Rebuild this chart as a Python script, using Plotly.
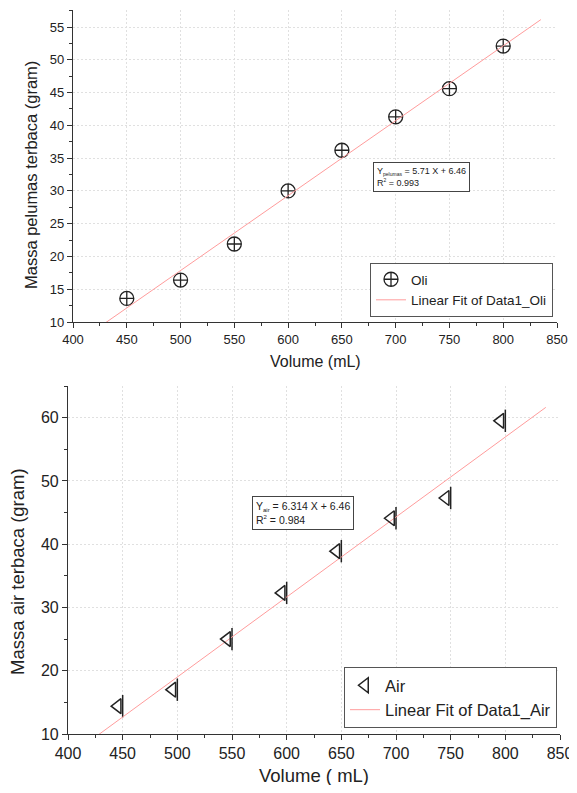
import numpy as np
import plotly.graph_objects as go

# ---------------- data ----------------
volume = [450, 500, 550, 600, 650, 700, 750, 800]
massa_oli = [13.6, 16.4, 21.9, 30.0, 36.2, 41.3, 45.6, 52.1]
massa_air = [14.4, 17.0, 25.0, 32.3, 38.9, 44.1, 47.3, 59.5]
fit_x_oli = [400, 835]
fit_x_air = [400, 837]
x_range = [400, 850]
y_range_oli = [10, 57.6]
y_range_air = [10, 65]
name_oli = "Oli"
name_fit_oli = "Linear Fit of Data1_Oli"
name_air = "Air"
name_fit_air = "Linear Fit of Data1_Air"
eq_oli = "Y<sub><span style='font-size:5px'>pelumas</span></sub> = 5.71 X + 6.46<br>R<sup><span style='font-size:5px'>2</span></sup> = 0.993"
eq_air = "Y<sub><span style='font-size:6px'>air</span></sub> = 6.314 X + 6.46<br>R<sup><span style='font-size:6px'>2</span></sup> = 0.984"
xtitle_oli = "Volume (mL)"
ytitle_oli = "Massa pelumas terbaca (gram)"
xtitle_air = "Volume ( mL)"
ytitle_air = "Massa air terbaca (gram)"

# linear fits computed from the data
c_oli = np.polyfit(volume, massa_oli, 1)
c_air = np.polyfit(volume, massa_air, 1)
fit_y_oli = np.polyval(c_oli, fit_x_oli)
fit_y_air = np.polyval(c_air, fit_x_air)

# the page body has an 8px margin, so the figure starts at (8, 8) in the window;
# keep the page height inside the window so no scrollbar appears
OFF = 8
W, H = 577 - OFF, 793 - 2 * OFF
def px(x):
    return (x - OFF) / W
def py(y):
    return 1 - (y - OFF) / H

# plot area boxes in window pixels (left, right, top, bottom)
TOP = (73, 557, 10, 322)
BOT = (68, 560, 386, 734)

FONT = "Liberation Sans, Arial, sans-serif"
INK = "#222222"
FITC = "#ff9c9c"
GRID = "#e0e0e0"
GDASH = "2px,2px"

# triangle is drawn slightly left of the data x (Origin symbol look)
tri_shift_px = 5
tri_shift = tri_shift_px * (x_range[1] - x_range[0]) / (BOT[1] - BOT[0])

fig = go.Figure()

fig.add_trace(go.Scatter(
    x=volume, y=massa_oli, mode="markers", name=name_oli,
    xaxis="x", yaxis="y", legend="legend",
    marker=dict(symbol="circle-cross-open", size=14, color=INK, line=dict(width=1.3, color=INK)),
))
fig.add_trace(go.Scatter(
    x=fit_x_oli, y=fit_y_oli, mode="lines", name=name_fit_oli,
    xaxis="x", yaxis="y", legend="legend",
    line=dict(color=FITC, width=1),
))

fig.add_trace(go.Scatter(
    x=volume, y=massa_air, mode="markers", name=name_air, showlegend=False,
    xaxis="x2", yaxis="y2",
    marker=dict(symbol="line-ns-open", size=16, color=INK, line=dict(width=1.5, color=INK)),
))
fig.add_trace(go.Scatter(
    x=volume, y=massa_air, mode="markers", name=name_air,
    xaxis="x5", yaxis="y2", legend="legend2",
    marker=dict(symbol="triangle-left-open", size=13, color=INK, line=dict(width=1.5, color=INK)),
))
fig.add_trace(go.Scatter(
    x=fit_x_air, y=fit_y_air, mode="lines", name=name_fit_air,
    xaxis="x2", yaxis="y2", legend="legend2",
    line=dict(color=FITC, width=1),
))

def main_x(dom, anchor, size):
    return dict(
        domain=dom, anchor=anchor, range=x_range, tick0=400, dtick=50, automargin=False,
        ticks="outside", ticklen=5, tickwidth=1, tickcolor="#333",
        showline=True, linecolor="#333", linewidth=1.2,
        showgrid=True, gridcolor=GRID, griddash=GDASH, gridwidth=1,
        zeroline=False, tickfont=dict(size=size, color=INK, family=FONT),
        ticklabeloverflow="allow",
        minor=dict(dtick=25, ticks="outside", ticklen=3, tickcolor="#333", showgrid=False),
    )

def main_y(dom, anchor, rng, dt, mdt, size):
    return dict(
        domain=dom, anchor=anchor, range=rng, tick0=10, dtick=dt, automargin=False,
        ticks="outside", ticklen=5, tickwidth=1, tickcolor="#333",
        showline=True, linecolor="#333", linewidth=1.2,
        showgrid=True, gridcolor=GRID, griddash=GDASH, gridwidth=1,
        zeroline=False, tickfont=dict(size=size, color=INK, family=FONT),
        minor=dict(dtick=mdt, ticks="outside", ticklen=3, tickcolor="#333", showgrid=False),
    )

def mirror_x(over, anchor):
    return dict(
        overlaying=over, anchor=anchor, side="top", range=x_range, tick0=400, dtick=50,
        automargin=False,
        ticks="inside", ticklen=5, tickcolor="#555", showticklabels=False,
        showline=True, linecolor="#888", linewidth=1.2, showgrid=False, zeroline=False,
        minor=dict(dtick=25, ticks="inside", ticklen=3, tickcolor="#555", showgrid=False),
    )

def mirror_y(over, anchor, rng, dt, mdt):
    return dict(
        overlaying=over, anchor=anchor, side="right", range=rng, tick0=10, dtick=dt,
        automargin=False,
        ticks="inside", ticklen=5, tickcolor="#555", showticklabels=False,
        showline=True, linecolor="#888", linewidth=1.2, showgrid=False, zeroline=False,
        minor=dict(dtick=mdt, ticks="inside", ticklen=3, tickcolor="#555", showgrid=False),
    )

top_xd = [px(TOP[0]), px(TOP[1])]
top_yd = [py(TOP[3]), py(TOP[2])]
bot_xd = [px(BOT[0]), px(BOT[1])]
bot_yd = [py(BOT[3]), py(BOT[2])]

fig.update_layout(
    width=W, height=H,
    margin=dict(l=0, r=0, t=0, b=0),
    paper_bgcolor="white", plot_bgcolor="white",
    font=dict(family=FONT, color=INK),
    xaxis=main_x(top_xd, "y", 13),
    yaxis=main_y(top_yd, "x", y_range_oli, 5, 2.5, 13),
    xaxis2=main_x(bot_xd, "y2", 16),
    yaxis2=main_y(bot_yd, "x2", y_range_air, 10, 5, 16),
    xaxis3=mirror_x("x", "y"),
    yaxis3=mirror_y("y", "x", y_range_oli, 5, 2.5),
    xaxis4=mirror_x("x2", "y2"),
    yaxis4=mirror_y("y2", "x2", y_range_air, 10, 5),
    xaxis5=dict(overlaying="x2", anchor="y2", range=[x_range[0] + tri_shift, x_range[1] + tri_shift],
                visible=False, automargin=False),
    legend=dict(
        x=px(553), xanchor="right", y=py(317), yanchor="bottom",
        bordercolor="#555", borderwidth=1, bgcolor="white",
        font=dict(size=13.5, color=INK, family=FONT), tracegroupgap=0,
    ),
    legend2=dict(
        x=px(557), xanchor="right", y=py(728), yanchor="bottom",
        bordercolor="#555", borderwidth=1, bgcolor="white",
        font=dict(size=16.5, color=INK, family=FONT), tracegroupgap=0,
    ),
    showlegend=True,
)

annos = [
    dict(x=px(373), y=py(162), xref="paper", yref="paper", xanchor="left", yanchor="top",
         text=eq_oli, showarrow=False, align="left", font=dict(size=9, color=INK),
         bordercolor="#444", borderwidth=1, borderpad=3, bgcolor="white"),
    dict(x=px(252), y=py(496), xref="paper", yref="paper", xanchor="left", yanchor="top",
         text=eq_air, showarrow=False, align="left", font=dict(size=10.5, color=INK),
         bordercolor="#444", borderwidth=1, borderpad=3, bgcolor="white"),
    dict(x=px(315), y=py(361), xref="paper", yref="paper", text=xtitle_oli, showarrow=False,
         xanchor="center", yanchor="middle", font=dict(size=16, color=INK)),
    dict(x=px(31), y=py(175), xref="paper", yref="paper", text=ytitle_oli, showarrow=False,
         xanchor="center", yanchor="middle", textangle=-90, font=dict(size=16.5, color=INK)),
    dict(x=px(314), y=py(775), xref="paper", yref="paper", text=xtitle_air, showarrow=False,
         xanchor="center", yanchor="middle", font=dict(size=18.5, color=INK)),
    dict(x=px(17), y=py(572), xref="paper", yref="paper", text=ytitle_air, showarrow=False,
         xanchor="center", yanchor="middle", textangle=-90, font=dict(size=18.5, color=INK)),
]
fig.update_layout(annotations=annos)

fig.write_html("out.html")
